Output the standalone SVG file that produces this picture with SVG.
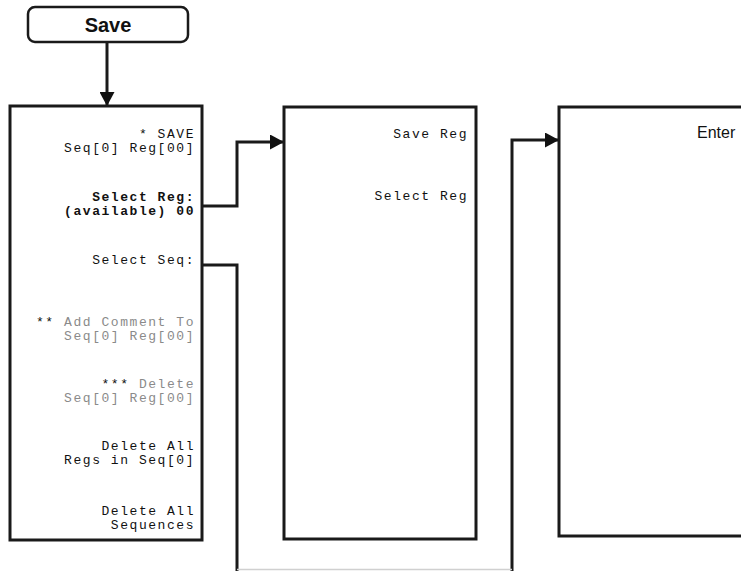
<svg xmlns="http://www.w3.org/2000/svg" width="741" height="571" viewBox="0 0 741 571">
<style>
.box{fill:#fff;stroke:#1a1a1a;stroke-width:3}
.conn{fill:none;stroke:#1a1a1a;stroke-width:3}
.m{font-family:"Liberation Mono","DejaVu Sans Mono",monospace;font-size:13px;letter-spacing:1.55px;fill:#111;text-anchor:end}
.b{font-weight:bold}
.g{fill:#8a8a8a}
</style>
<defs>
<marker id="ah" markerUnits="userSpaceOnUse" markerWidth="14" markerHeight="15" refX="13" refY="7.5" orient="auto">
<path d="M0,0 L14,7.5 L0,15 Z" fill="#111"/>
</marker>
</defs>
<rect width="741" height="571" fill="#fff"/>
<g id="connectors">
<path class="conn" d="M107,43 V105" marker-end="url(#ah)"/>
<path class="conn" d="M202,206 H237 V142 H283" marker-end="url(#ah)"/>
<path class="conn" d="M202,265 H237 V571"/>
<path class="conn" d="M512,571 V140 H558" marker-end="url(#ah)"/>
<line x1="237" y1="569.5" x2="512" y2="569.5" stroke="#d0d0d0" stroke-width="1.5"/>
</g>
<g id="save">
<rect x="28" y="7" width="160" height="35" rx="7" fill="#fff" stroke="#1a1a1a" stroke-width="2.5"/>
<text x="108" y="32" font-family="Liberation Sans, Arial, sans-serif" font-weight="bold" font-size="20" text-anchor="middle" fill="#111">Save</text>
</g>
<g id="menu1">
<rect class="box" x="10" y="106" width="192" height="434"/>
<text class="m" x="195" y="138">* SAVE</text>
<text class="m" x="195" y="152">Seq[0] Reg[00]</text>
<text class="m b" x="195" y="201">Select Reg:</text>
<text class="m b" x="195" y="215">(available) 00</text>
<text class="m" x="195" y="264">Select Seq:</text>
<text class="m" x="195" y="326">** <tspan class="g">Add Comment To</tspan></text>
<text class="m g" x="195" y="340">Seq[0] Reg[00]</text>
<text class="m" x="195" y="388">*** <tspan class="g">Delete</tspan></text>
<text class="m g" x="195" y="402">Seq[0] Reg[00]</text>
<text class="m" x="195" y="450">Delete All</text>
<text class="m" x="195" y="464">Regs in Seq[0]</text>
<text class="m" x="195" y="515">Delete All</text>
<text class="m" x="195" y="529">Sequences</text>
</g>
<g id="menu2">
<rect class="box" x="284" y="107" width="192" height="432"/>
<text class="m" x="468" y="138">Save Reg</text>
<text class="m" x="468" y="200">Select Reg</text>
</g>
<g id="menu3">
<rect class="box" x="559" y="107" width="200" height="429"/>
<text x="697" y="138" font-family="Liberation Sans, Arial, sans-serif" font-size="16" fill="#111">Enter</text>
</g>
</svg>
